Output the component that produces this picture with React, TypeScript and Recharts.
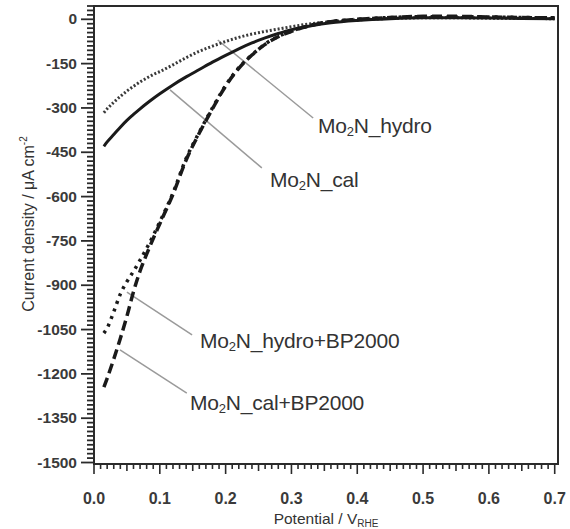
import React from "react";
import { LineChart, Line, XAxis, YAxis, ReferenceArea, ReferenceLine } from "recharts";

const potential = [0.015, 0.02, 0.03, 0.04, 0.05, 0.06, 0.07, 0.08, 0.09, 0.1, 0.12, 0.14, 0.16, 0.18, 0.2, 0.22, 0.24, 0.26, 0.28, 0.3, 0.33, 0.36, 0.4, 0.45, 0.5, 0.55, 0.6, 0.65, 0.7];
const mo2nHydro = [-316, -303, -281, -261, -243, -227, -212, -199, -187, -177, -154, -130, -108, -91, -75, -61, -50, -41, -33, -25, -15, -8, -2, 3, 5, 5, 4, 3, 2];
const mo2nCal = [-430, -415, -390, -365, -342, -322, -303, -285, -268, -252, -222, -195, -170, -145, -122, -100, -80, -63, -48, -35, -22, -12, -4, 2, 5, 5, 4, 3, 2];
const mo2nHydroBP = [-1062, -1045, -990, -930, -888, -853, -815, -775, -732, -686, -588, -471, -382, -300, -224, -164, -120, -84, -58, -40, -20, -8, 0, 6, 9, 9, 8, 6, 5];
const mo2nCalBP = [-1245, -1215, -1150, -1080, -1005, -922, -852, -795, -742, -692, -592, -476, -385, -303, -226, -166, -121, -85, -59, -41, -21, -8, 0, 6, 10, 10, 8, 6, 5];

const xMajorTicks = [0.0, 0.1, 0.2, 0.3, 0.4, 0.5, 0.6, 0.7];
const yMajorTicks = [0, -150, -300, -450, -600, -750, -900, -1050, -1200, -1350, -1500];

const xTicks = Array.from({ length: 71 }, (_, i) => i / 100);
const yTicks = Array.from({ length: 104 }, (_, i) => 45 - i * 15).filter((v) => v >= -1500);

const data = potential.map((p, i) => ({
  p,
  hydro: mo2nHydro[i],
  cal: mo2nCal[i],
  hydroBP: mo2nHydroBP[i],
  calBP: mo2nCalBP[i],
}));

const X_MIN = 0;
const X_MAX = 0.705;
const Y_MIN = -1505;
const Y_MAX = 45;

const tickColor = "#2a2a2a";
const font = "'Liberation Sans', Arial, sans-serif";

const XTick = (props: any) => {
  const { x, y, payload } = props;
  const v = Math.round(payload.value * 100);
  const major = xMajorTicks.some((t) => Math.round(t * 100) === v);
  const half = v % 5 === 0;
  const len = major ? 10 : half ? 7 : 5;
  return (
    <g>
      <line x1={x} x2={x} y1={y} y2={y + len} stroke={tickColor} strokeWidth={1.6} />
      {major && (
        <text x={x} y={y + 40} textAnchor="middle" fontSize={16} fontWeight={700} fill="#3a3a3a" fontFamily={font}>
          {(v / 100).toFixed(1)}
        </text>
      )}
    </g>
  );
};

const YTick = (props: any) => {
  const { x, y, payload } = props;
  const v = payload.value;
  const major = yMajorTicks.includes(v);
  const len = major ? 13 : 7;
  return (
    <g>
      <line x1={x - len} x2={x} y1={y} y2={y} stroke={tickColor} strokeWidth={1.8} />
      {major && (
        <text x={x - 17} y={y + 5} textAnchor="end" fontSize={15.5} fontWeight={700} fill="#3a3a3a" fontFamily={font}>
          {v}
        </text>
      )}
    </g>
  );
};

const labelStyle: React.CSSProperties = {
  position: "absolute",
  fontFamily: font,
  fontSize: 21,
  color: "#333",
  whiteSpace: "nowrap",
  lineHeight: "22px",
  letterSpacing: "-0.2px",
};

const Mo2N = ({ rest }: { rest: string }) => (
  <span>
    Mo<sub style={{ fontSize: 13, verticalAlign: "-3px" }}>2</sub>N{rest}
  </span>
);

export default function App() {
  return (
    <div style={{ position: "absolute", left: 0, top: 0, width: 570, height: 529, background: "#fff" }}>
      <LineChart width={570} height={529} data={data} margin={{ top: 6, right: 12, bottom: 35, left: 0 }}>
        <XAxis
          dataKey="p"
          type="number"
          domain={[X_MIN, X_MAX]}
          ticks={xTicks}
          interval={0}
          height={30}
          tick={<XTick />}
          tickLine={false}
          tickSize={0}
          tickMargin={0}
          axisLine={{ stroke: tickColor, strokeWidth: 2 }}
          allowDataOverflow
        />
        <YAxis
          type="number"
          domain={[Y_MIN, Y_MAX]}
          ticks={yTicks}
          interval={0}
          width={94}
          tick={<YTick />}
          tickLine={false}
          tickSize={0}
          tickMargin={0}
          axisLine={{ stroke: tickColor, strokeWidth: 2 }}
          allowDataOverflow
        />
        <ReferenceArea x1={X_MIN} x2={X_MAX} y1={Y_MIN} y2={Y_MAX} fill="none" stroke={tickColor} strokeWidth={2} />
        <ReferenceLine segment={[{ x: 0.188, y: -70 }, { x: 0.333, y: -334 }]} stroke="#9a9a9a" strokeWidth={1.5} />
        <ReferenceLine segment={[{ x: 0.1155, y: -239 }, { x: 0.255, y: -503 }]} stroke="#9a9a9a" strokeWidth={1.5} />
        <ReferenceLine segment={[{ x: 0.05, y: -923 }, { x: 0.149, y: -1068 }]} stroke="#9a9a9a" strokeWidth={1.5} />
        <ReferenceLine segment={[{ x: 0.0395, y: -1119 }, { x: 0.141, y: -1265 }]} stroke="#9a9a9a" strokeWidth={1.5} />
        <Line dataKey="hydro" type="monotone" stroke="#3a3a3a" strokeWidth={3} strokeDasharray="2 2" dot={false} isAnimationActive={false} />
        <Line dataKey="cal" type="monotone" stroke="#1a1a1a" strokeWidth={3} dot={false} isAnimationActive={false} />
        <Line dataKey="hydroBP" type="monotone" stroke="#1a1a1a" strokeWidth={3.5} strokeDasharray="3 5" dot={false} isAnimationActive={false} />
        <Line dataKey="calBP" type="monotone" stroke="#1a1a1a" strokeWidth={3.5} strokeDasharray="10 5" dot={false} isAnimationActive={false} />
      </LineChart>

      <div style={{ ...labelStyle, left: 318, top: 115 }}><Mo2N rest="_hydro" /></div>
      <div style={{ ...labelStyle, left: 270, top: 169 }}><Mo2N rest="_cal" /></div>
      <div style={{ ...labelStyle, left: 200, top: 330 }}><Mo2N rest="_hydro+BP2000" /></div>
      <div style={{ ...labelStyle, left: 190, top: 392 }}><Mo2N rest="_cal+BP2000" /></div>

      <div style={{ position: "absolute", left: 0, top: 510, width: 652, textAlign: "center", fontFamily: font, fontSize: 15.5, color: "#333", whiteSpace: "nowrap" }}>
        Potential / V<sub style={{ fontSize: 10, verticalAlign: "-3px" }}>RHE</sub>
      </div>
      <div
        style={{
          position: "absolute",
          left: 28,
          top: 224,
          transform: "translate(-50%, -50%) rotate(-90deg)",
          fontFamily: font,
          fontSize: 16,
          color: "#333",
          whiteSpace: "nowrap",
        }}
      >
        Current density / μA cm<sup style={{ fontSize: 10, verticalAlign: "7px" }}>-2</sup>
      </div>
    </div>
  );
}
